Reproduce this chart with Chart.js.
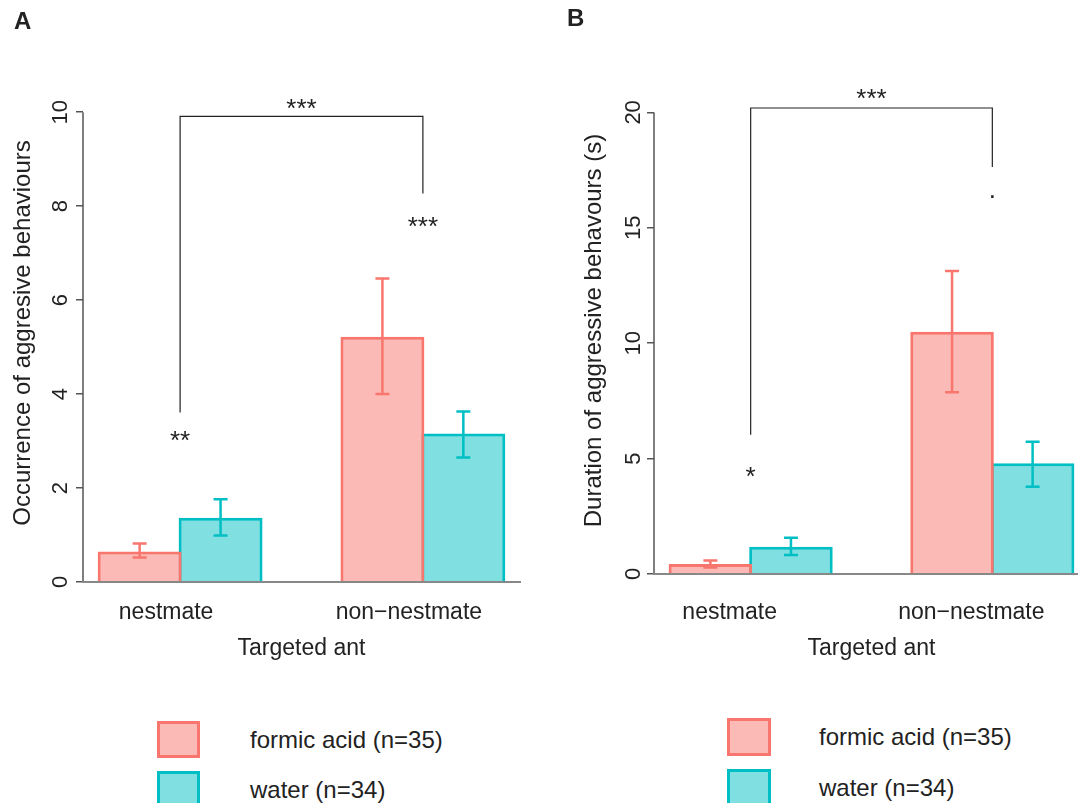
<!DOCTYPE html>
<html lang="en">
<head>
<meta charset="UTF-8">
<title>Aggressive behaviours towards targeted ants</title>
<script src="https://cdn.jsdelivr.net/npm/chart.js"></script>
<style>
  body { margin: 0; width: 1078px; height: 803px; overflow: hidden; background: #fff; position: relative;
         font-family: "Liberation Sans", Arial, sans-serif; color: #222; }
  canvas { position: absolute; top: 0; }
  #chartA { left: 0; }
  #chartB { left: 540px; }
  .panel { position: absolute; font-weight: bold; font-size: 24px; line-height: 24px; }
  .key { position: absolute; box-sizing: border-box; border: 3px solid; }
  .keytext { position: absolute; font-size: 24px; white-space: nowrap; }
</style>
</head>
<body>
<canvas id="chartA" width="540" height="700"></canvas>
<canvas id="chartB" width="560" height="700"></canvas>
<div class="panel" style="left:14px; top:9px">A</div>
<div class="panel" style="left:567px; top:6px">B</div>
<div id="legends"></div>

<script>
const groups = ['nestmate', 'non\u2212nestmate'];
const groupPos = [2, 5];
const seriesNames = ['formic acid (n=35)', 'water (n=34)'];

// A - occurrence (mean, lower and upper end of error bar)
const occFormic   = [0.65, 5.22];
const occFormicLo = [0.52, 4.00];
const occFormicHi = [0.82, 6.46];
const occWater    = [1.37, 3.16];
const occWaterLo  = [0.99, 2.65];
const occWaterHi  = [1.76, 3.63];
const occTicks = [0, 2, 4, 6, 8, 10];

// B - duration in seconds
const durFormic   = [0.43, 10.50];
const durFormicLo = [0.28, 7.88];
const durFormicHi = [0.58, 13.13];
const durWater    = [1.18, 4.80];
const durWaterLo  = [0.82, 3.78];
const durWaterHi  = [1.57, 5.73];
const durTicks = [0, 5, 10, 15, 20];

// significance marks: bracket joins the two groups
const occBracket = { top: 9.91, left: 3.61, right: 8.27, label: '***', labelY: 10.17 };
const occStars  = ['**', '***'];
const occStarsY = [3.10, 7.66];
const durBracket = { top: 20.19, left: 6.03, right: 17.63, label: '***', labelY: 20.8 };
const durStars  = ['*', '.'];
const durStarsY = [4.41, 16.35];

const red = '#F8766D', redFill = 'rgba(248,118,109,0.5)';
const teal = '#00BFC4', tealFill = 'rgba(0,191,196,0.5)';

Chart.defaults.font.family = '"Liberation Sans", Arial, sans-serif';
Chart.defaults.color = '#222';

function centerText(ctx, txt, x, y) {
    const m = ctx.measureText(txt);
    ctx.textAlign = 'center';
    ctx.textBaseline = 'alphabetic';
    ctx.fillText(txt, x, y + (m.actualBoundingBoxAscent - m.actualBoundingBoxDescent) / 2);
}

function makePanel(id, p) {
    const annotate = {
        id: 'annotate',
        afterDatasetsDraw(chart) {
            const ctx = chart.ctx, xs = chart.scales.x, ys = chart.scales.y;
            ctx.save();
            // R style axis: only spans the tick range
            ctx.strokeStyle = '#555';
            ctx.lineWidth = 1.5;
            ctx.beginPath();
            ctx.moveTo(chart.chartArea.left, ys.getPixelForValue(p.ticks[0]));
            ctx.lineTo(chart.chartArea.left, ys.getPixelForValue(p.ticks[p.ticks.length - 1]));
            ctx.stroke();

            // error bars
            chart.data.datasets.forEach((ds, i) => {
                const meta = chart.getDatasetMeta(i);
                ctx.strokeStyle = ds.borderColor;
                ctx.lineWidth = 2.5;
                meta.data.forEach((bar, j) => {
                    const yl = ys.getPixelForValue(ds.errLo[j]);
                    const yh = ys.getPixelForValue(ds.errHi[j]);
                    ctx.beginPath();
                    ctx.moveTo(bar.x, yl); ctx.lineTo(bar.x, yh);
                    ctx.moveTo(bar.x - 7, yl); ctx.lineTo(bar.x + 7, yl);
                    ctx.moveTo(bar.x - 7, yh); ctx.lineTo(bar.x + 7, yh);
                    ctx.stroke();
                });
            });

            // bracket + stars
            const xl = xs.getPixelForValue(groupPos[0]);
            const xr = xs.getPixelForValue(groupPos[1]);
            const b = p.bracket;
            ctx.strokeStyle = '#222';
            ctx.lineWidth = 1.2;
            ctx.beginPath();
            ctx.moveTo(xl, ys.getPixelForValue(b.left));
            ctx.lineTo(xl, ys.getPixelForValue(b.top));
            ctx.lineTo(xr, ys.getPixelForValue(b.top));
            ctx.lineTo(xr, ys.getPixelForValue(b.right));
            ctx.stroke();
            ctx.fillStyle = '#222';
            ctx.font = '26px "Liberation Sans", Arial, sans-serif';
            centerText(ctx, b.label, (xl + xr) / 2, ys.getPixelForValue(b.labelY));
            p.stars.forEach((s, i) => {
                centerText(ctx, s, xs.getPixelForValue(groupPos[i]), ys.getPixelForValue(p.starsY[i]));
            });
            ctx.restore();
        }
    };

    const bar = (name, vals, lo, hi, col, fill) => ({
        label: name,
        data: groupPos.map((g, i) => ({ x: g, y: vals[i] })),
        errLo: lo, errHi: hi,
        backgroundColor: fill, borderColor: col, borderWidth: 3, borderSkipped: 'start',
        categoryPercentage: 2 / 3, barPercentage: 1.037
    });

    new Chart(document.getElementById(id), {
        type: 'bar',
        data: {
            datasets: [
                bar(seriesNames[0], p.formic, p.formicLo, p.formicHi, red, redFill),
                bar(seriesNames[1], p.water, p.waterLo, p.waterHi, teal, tealFill)
            ]
        },
        options: {
            responsive: false,
            animation: false,
            layout: { padding: p.pad },
            plugins: { legend: { display: false }, tooltip: { enabled: false } },
            scales: {
                x: {
                    type: 'linear', min: 0.8, max: 6.2, offset: false,
                    afterBuildTicks: s => { s.ticks = groupPos.map(v => ({ value: v })); },
                    afterFit: s => { s.height = p.xHeight; },
                    ticks: {
                        callback: v => groups[groupPos.indexOf(v)],
                        font: { size: 23 }, padding: p.xLabelPad, labelOffset: p.labelOffset,
                        maxRotation: 0, autoSkip: false
                    },
                    grid: { display: false, drawTicks: false },
                    border: { display: true, color: '#888', width: 2, z: 1 },
                    title: { display: true, text: 'Targeted ant', font: { size: 23 }, padding: { top: 0, bottom: 38 } }
                },
                y: {
                    min: 0, max: p.yMax,
                    afterBuildTicks: s => { s.ticks = p.ticks.map(v => ({ value: v })); },
                    afterFit: s => { s.width = p.yWidth; },
                    ticks: { font: { size: 22 }, minRotation: 90, maxRotation: 90, crossAlign: 'center', padding: p.tickPad },
                    grid: { drawOnChartArea: false, drawTicks: true, tickLength: 7, color: '#555', lineWidth: 1.5 },
                    border: { display: false },
                    title: { display: true, text: p.yTitle, font: { size: 24 }, padding: { top: p.titlePad, bottom: 0 } }
                }
            }
        },
        plugins: [annotate]
    });
}

makePanel('chartA', {
    formic: occFormic, formicLo: occFormicLo, formicHi: occFormicHi,
    water: occWater, waterLo: occWaterLo, waterHi: occWaterHi,
    ticks: occTicks, yMax: 10.6, yTitle: 'Occurrence of aggresive behaviours',
    bracket: occBracket, stars: occStars, starsY: occStarsY,
    pad: { top: 84, right: 20, left: 0, bottom: 0 }, yWidth: 83, xHeight: 118,
    tickPad: 3, titlePad: 9, xLabelPad: 17, labelOffset: -14
});

makePanel('chartB', {
    formic: durFormic, formicLo: durFormicLo, formicHi: durFormicHi,
    water: durWater, waterLo: durWaterLo, waterHi: durWaterHi,
    ticks: durTicks, yMax: 21.1, yTitle: 'Duration of aggressive behavours (s)',
    bracket: durBracket, stars: durStars, starsY: durStarsY,
    pad: { top: 87, right: 11, left: 0, bottom: 0 }, yWidth: 114, xHeight: 126,
    tickPad: 1, titlePad: 40, xLabelPad: 25, labelOffset: -21
});

// legends under each panel
const legendSpots = [
    { boxLeft: 157, textLeft: 250, tops: [721, 771], w: 43, h: 37 },
    { boxLeft: 727, textLeft: 819, tops: [718, 769], w: 44, h: 38 }
];
const keyCols = [[red, redFill], [teal, tealFill]];
const holder = document.getElementById('legends');
legendSpots.forEach(spot => {
    seriesNames.forEach((name, i) => {
        const box = document.createElement('div');
        box.className = 'key';
        box.style.cssText = `left:${spot.boxLeft}px; top:${spot.tops[i]}px; width:${spot.w}px; height:${spot.h}px;` +
            `border-color:${keyCols[i][0]}; background:${keyCols[i][1]};`;
        holder.appendChild(box);
        const txt = document.createElement('div');
        txt.className = 'keytext';
        txt.style.cssText = `left:${spot.textLeft}px; top:${spot.tops[i]}px; line-height:${spot.h}px;`;
        txt.textContent = name;
        holder.appendChild(txt);
    });
});
</script>
</body>
</html>
